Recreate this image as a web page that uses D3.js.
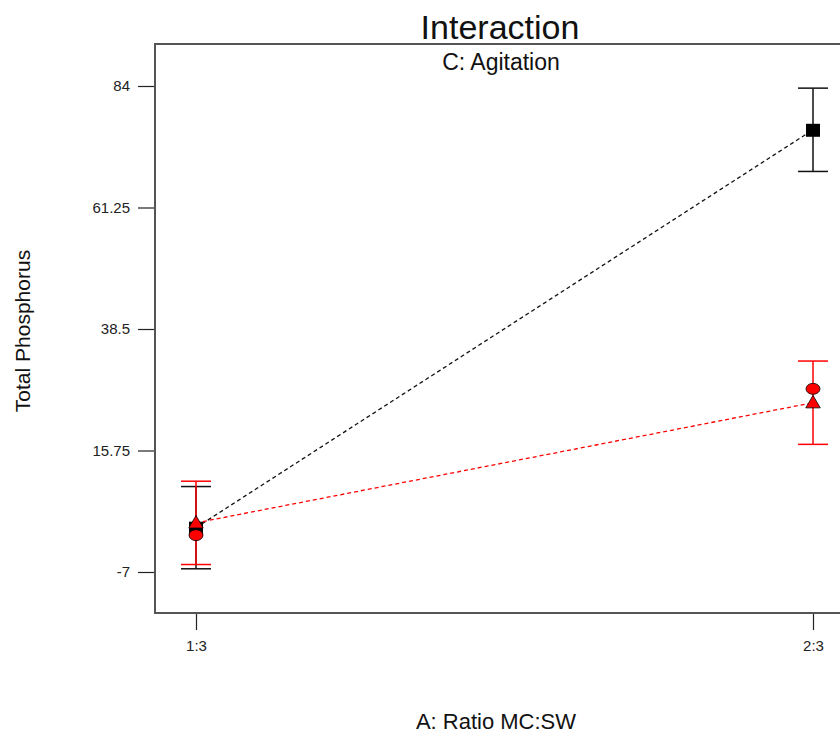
<!DOCTYPE html>
<html>
<head>
<meta charset="utf-8">
<script src="https://cdn.jsdelivr.net/npm/d3@7"></script>
<style>
  html, body { margin: 0; padding: 0; background: #fff; }
  svg { display: block; font-family: "Liberation Sans", Arial, sans-serif; }
</style>
</head>
<body>
<svg id="chart" width="840" height="734"></svg>
<script>
// Factor A levels along the x axis
const levels = ["1:3", "2:3"];
// Y axis ticks
const yTicks = [-7, 15.75, 38.5, 61.25, 84];

// Predicted means for the two levels of the second factor
const blackMeans = [1.3, 75.8];
const redMeans = [2.2, 24.7];
// LSD half-widths of the error bars
const blackHalf = [7.7, 7.8];
const redHalf = [7.8, 7.8];
// Observed design points (red circles)
const redPoints = [-0.1, 27.3];

const svg = d3.select("#chart");

const frame = { left: 155, top: 44, right: 846, bottom: 613 };

const x = d3.scalePoint().domain(levels).range([196, 813]);
const y = d3.scaleLinear().domain([-7, 84]).range([572, 86]);

// plot frame
svg.append("rect")
  .attr("x", frame.left).attr("y", frame.top)
  .attr("width", frame.right - frame.left).attr("height", frame.bottom - frame.top)
  .attr("fill", "none").attr("stroke", "#555").attr("stroke-width", 2);

// y axis
const yAxis = d3.axisLeft(y).tickValues(yTicks).tickSize(16).tickPadding(8)
  .tickFormat(d => String(d));
const gy = svg.append("g").attr("transform", `translate(${frame.left - 1},0)`).call(yAxis);
gy.select(".domain").remove();
gy.selectAll(".tick line").attr("stroke", "#222").attr("stroke-width", 1.2);
gy.selectAll(".tick text").attr("font-size", 15).attr("fill", "#222")
  .attr("font-family", "Liberation Sans, Arial, sans-serif");

// x axis
const xAxis = d3.axisBottom(x).tickSize(16).tickPadding(10);
const gx = svg.append("g").attr("transform", `translate(0,${frame.bottom + 1})`).call(xAxis);
gx.select(".domain").remove();
gx.selectAll(".tick line").attr("stroke", "#222").attr("stroke-width", 1.2);
gx.selectAll(".tick text").attr("font-size", 15).attr("fill", "#222")
  .attr("font-family", "Liberation Sans, Arial, sans-serif");

// titles
svg.append("text").attr("x", 500).attr("y", 39).attr("text-anchor", "middle")
  .attr("font-size", 34).attr("fill", "#111").text("Interaction");
svg.append("text").attr("x", 501).attr("y", 70).attr("text-anchor", "middle")
  .attr("font-size", 23).attr("fill", "#111").text("C: Agitation");
svg.append("text").attr("x", 496).attr("y", 729).attr("text-anchor", "middle")
  .attr("font-size", 22).attr("fill", "#111").text("A: Ratio MC:SW");
svg.append("text").attr("transform", "translate(30,331) rotate(-90)")
  .attr("text-anchor", "middle").attr("font-size", 21).attr("fill", "#111")
  .text("Total Phosphorus");

function errorBars(means, half, color) {
  const g = svg.append("g").attr("stroke", color).attr("stroke-width", 1.5);
  levels.forEach((lv, i) => {
    const cx = x(lv), top = y(means[i] + half[i]), bot = y(means[i] - half[i]);
    g.append("line").attr("x1", cx).attr("x2", cx).attr("y1", top).attr("y2", bot);
    g.append("line").attr("x1", cx - 15).attr("x2", cx + 15).attr("y1", top).attr("y2", top);
    g.append("line").attr("x1", cx - 15).attr("x2", cx + 15).attr("y1", bot).attr("y2", bot);
  });
}

function dashed(means, color) {
  const line = d3.line().x((d, i) => x(levels[i])).y(d => y(d));
  svg.append("path").attr("d", line(means)).attr("fill", "none")
    .attr("stroke", color).attr("stroke-width", 1.3).attr("stroke-dasharray", "4,3");
}

errorBars(blackMeans, blackHalf, "#111");
errorBars(redMeans, redHalf, "#f00");
dashed(blackMeans, "#111");
dashed(redMeans, "#f00");

// black squares
svg.selectAll(".sq").data(blackMeans).enter().append("rect")
  .attr("x", (d, i) => x(levels[i]) - 7).attr("y", d => y(d) - 6)
  .attr("width", 14).attr("height", 13).attr("fill", "#000");

// red design points
svg.selectAll(".pt").data(redPoints).enter().append("ellipse")
  .attr("cx", (d, i) => x(levels[i])).attr("cy", d => y(d))
  .attr("rx", 7).attr("ry", 5.5).attr("fill", "#f00").attr("stroke", "#000").attr("stroke-width", 0.8);

// red triangles
const tri = d3.symbol().type(d3.symbolTriangle).size(90);
svg.selectAll(".tri").data(redMeans).enter().append("path")
  .attr("d", tri)
  .attr("transform", (d, i) => `translate(${x(levels[i])},${y(d) + 1})`)
  .attr("fill", "#f00").attr("stroke", "#000").attr("stroke-width", 0.8);
</script>
</body>
</html>
